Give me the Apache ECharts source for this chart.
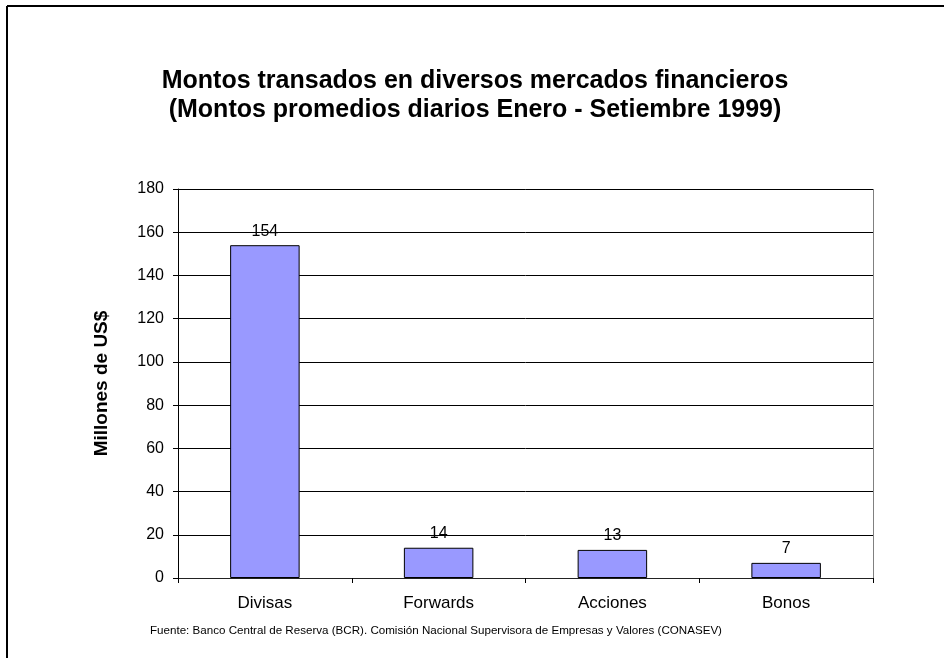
<!DOCTYPE html>
<html>
<head>
<meta charset="utf-8">
<script src="https://cdn.jsdelivr.net/npm/echarts@6/dist/echarts.min.js"></script>
<style>
  html, body { margin: 0; padding: 0; background: #fff; }
  #main { width: 944px; height: 658px; }
</style>
</head>
<body>
<div id="main"></div>
<script>
  var categorias = ['Divisas', 'Forwards', 'Acciones', 'Bonos'];
  var montos = [154, 14, 13, 7];
  var fuente = 'Fuente: Banco Central de Reserva (BCR). Comisión Nacional Supervisora de Empresas y Valores (CONASEV)';

  var myChart = echarts.init(document.getElementById('main'));
  myChart.setOption({
    backgroundColor: '#fff',
    animation: false,
    textStyle: { fontFamily: 'Liberation Sans, Arial, sans-serif' },
    title: {
      text: 'Montos transados en diversos mercados financieros\n(Montos promedios diarios Enero - Setiembre 1999)',
      left: 470,
      textAlign: 'center',
      top: 62,
      textStyle: { fontSize: 25, fontWeight: 'bold', color: '#000', lineHeight: 29 }
    },
    graphic: [
      { type: 'line', shape: { x1: 7, y1: 6, x2: 944, y2: 6 }, style: { stroke: '#000', lineWidth: 2 } },
      { type: 'line', shape: { x1: 7, y1: 6, x2: 7, y2: 658 }, style: { stroke: '#000', lineWidth: 2 } },
      { type: 'line', shape: { x1: 178, y1: 189.5, x2: 873, y2: 189.5 }, style: { stroke: '#808080', lineWidth: 1 } },
      { type: 'line', shape: { x1: 873.5, y1: 189, x2: 873.5, y2: 578 }, style: { stroke: '#808080', lineWidth: 1 } },
      { type: 'text', left: 150, top: 625, style: { text: fuente, fontSize: 11.6, fill: '#000', fontFamily: 'Liberation Sans, Arial, sans-serif' } }
    ],
    grid: { left: 178, top: 189, width: 695, height: 389, containLabel: false },
    xAxis: {
      type: 'category',
      data: categorias,
      axisLine: { lineStyle: { color: '#222', width: 1 } },
      axisTick: { show: true, alignWithLabel: false, length: 5, lineStyle: { color: '#000' } },
      axisLabel: { fontSize: 17, color: '#000', margin: 17 }
    },
    yAxis: {
      type: 'value',
      min: 0,
      max: 180,
      interval: 20,
      name: 'Millones de US$',
      nameLocation: 'middle',
      nameGap: 67,
      nameTextStyle: { fontSize: 19, fontWeight: 'bold', color: '#000' },
      axisLine: { show: true, lineStyle: { color: '#000' } },
      axisTick: { show: true, length: 5, lineStyle: { color: '#000' } },
      axisLabel: { fontSize: 16, color: '#000', margin: 14 },
      splitLine: { lineStyle: { color: '#000', width: 1 } }
    },
    series: [{
      type: 'bar',
      data: montos,
      barWidth: '40%',
      itemStyle: { color: '#9999FF', borderColor: '#000', borderWidth: 1 },
      label: { show: true, position: 'top', fontSize: 16, color: '#000', distance: 6 }
    }]
  });
</script>
</body>
</html>
